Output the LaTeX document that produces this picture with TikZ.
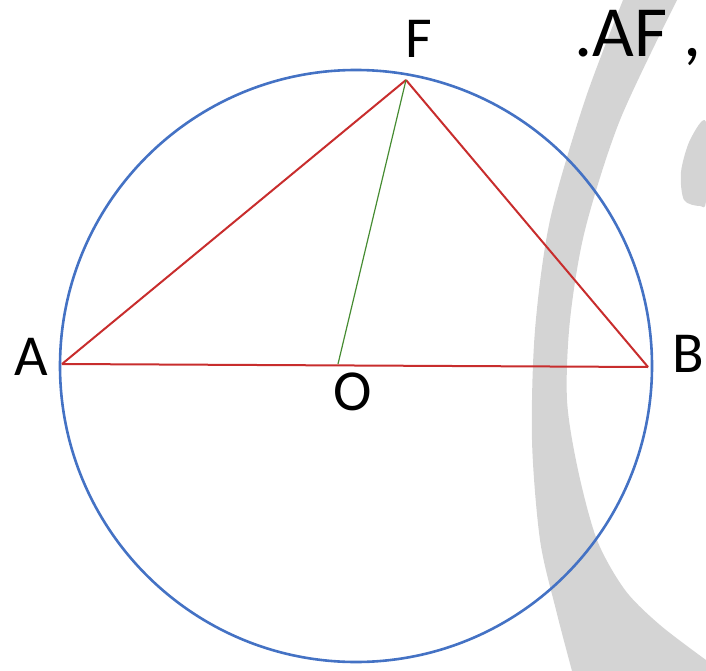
\documentclass[tikz,border=0pt]{standalone}
\usepackage{fontspec}
\setmainfont{Carlito}
\definecolor{circblue}{RGB}{68,114,196}
\definecolor{chordred}{RGB}{200,45,45}
\definecolor{radgreen}{RGB}{70,140,50}

\begin{document}
\begin{tikzpicture}[x=1pt,y=-1pt,
    rim/.style={draw=circblue, line width=2.6pt},
    chord/.style={draw=chordred, line width=2pt},
    radial/.style={draw=radgreen, line width=1.2pt},
    lbl/.style={inner sep=0pt, anchor=base, font=\fontsize{58}{60}\selectfont},
    wmark/.style={fill=black!17}]
    \useasboundingbox (0,0) rectangle (706,671);
    \clip (0,0) rectangle (706,671);
    % watermark in the back
    \fill[wmark] plot[smooth] coordinates {(623,0) (585,100) (550,220) (535,330) (532,440) (540,540) (556,610) (572,671)}
        -- (706,671) -- (706,660)
        -- plot[smooth] coordinates {(706,660) (660,625) (625,590) (597,540) (578,470) (567,400) (570,320) (585,230) (620,120) (677,0)}
        -- cycle;
    \fill[wmark] plot[smooth cycle] coordinates {(706,122) (690,140) (681,172) (684,200) (700,206) (706,200)};
    % points
    \coordinate (ctr) at (356,366);
    \coordinate (ptA) at (62,364);
    \coordinate (ptB) at (648,367);
    \coordinate (ptO) at (338,364);
    \coordinate (ptF) at (406,80);
    \draw[rim] (ctr) circle[radius=296];
    \draw[chord] (ptA) -- (ptB);
    \draw[chord] (ptA) -- (ptF);
    \draw[chord] (ptF) -- (ptB);
    \draw[radial] (ptO) -- (ptF);
    % labels
    \node[lbl] (labA) at (31,375) {A};
    \node[lbl] (labB) at (688,372) {B};
    \node[lbl] (labO) at (353,410) {O};
    \node[lbl] (labF) at (419,58) {F};
    \node[inner sep=0pt, anchor=base west, font=\fontsize{72}{74}\selectfont] (note) at (574,57) {.AF ,};
\end{tikzpicture}
\end{document}
